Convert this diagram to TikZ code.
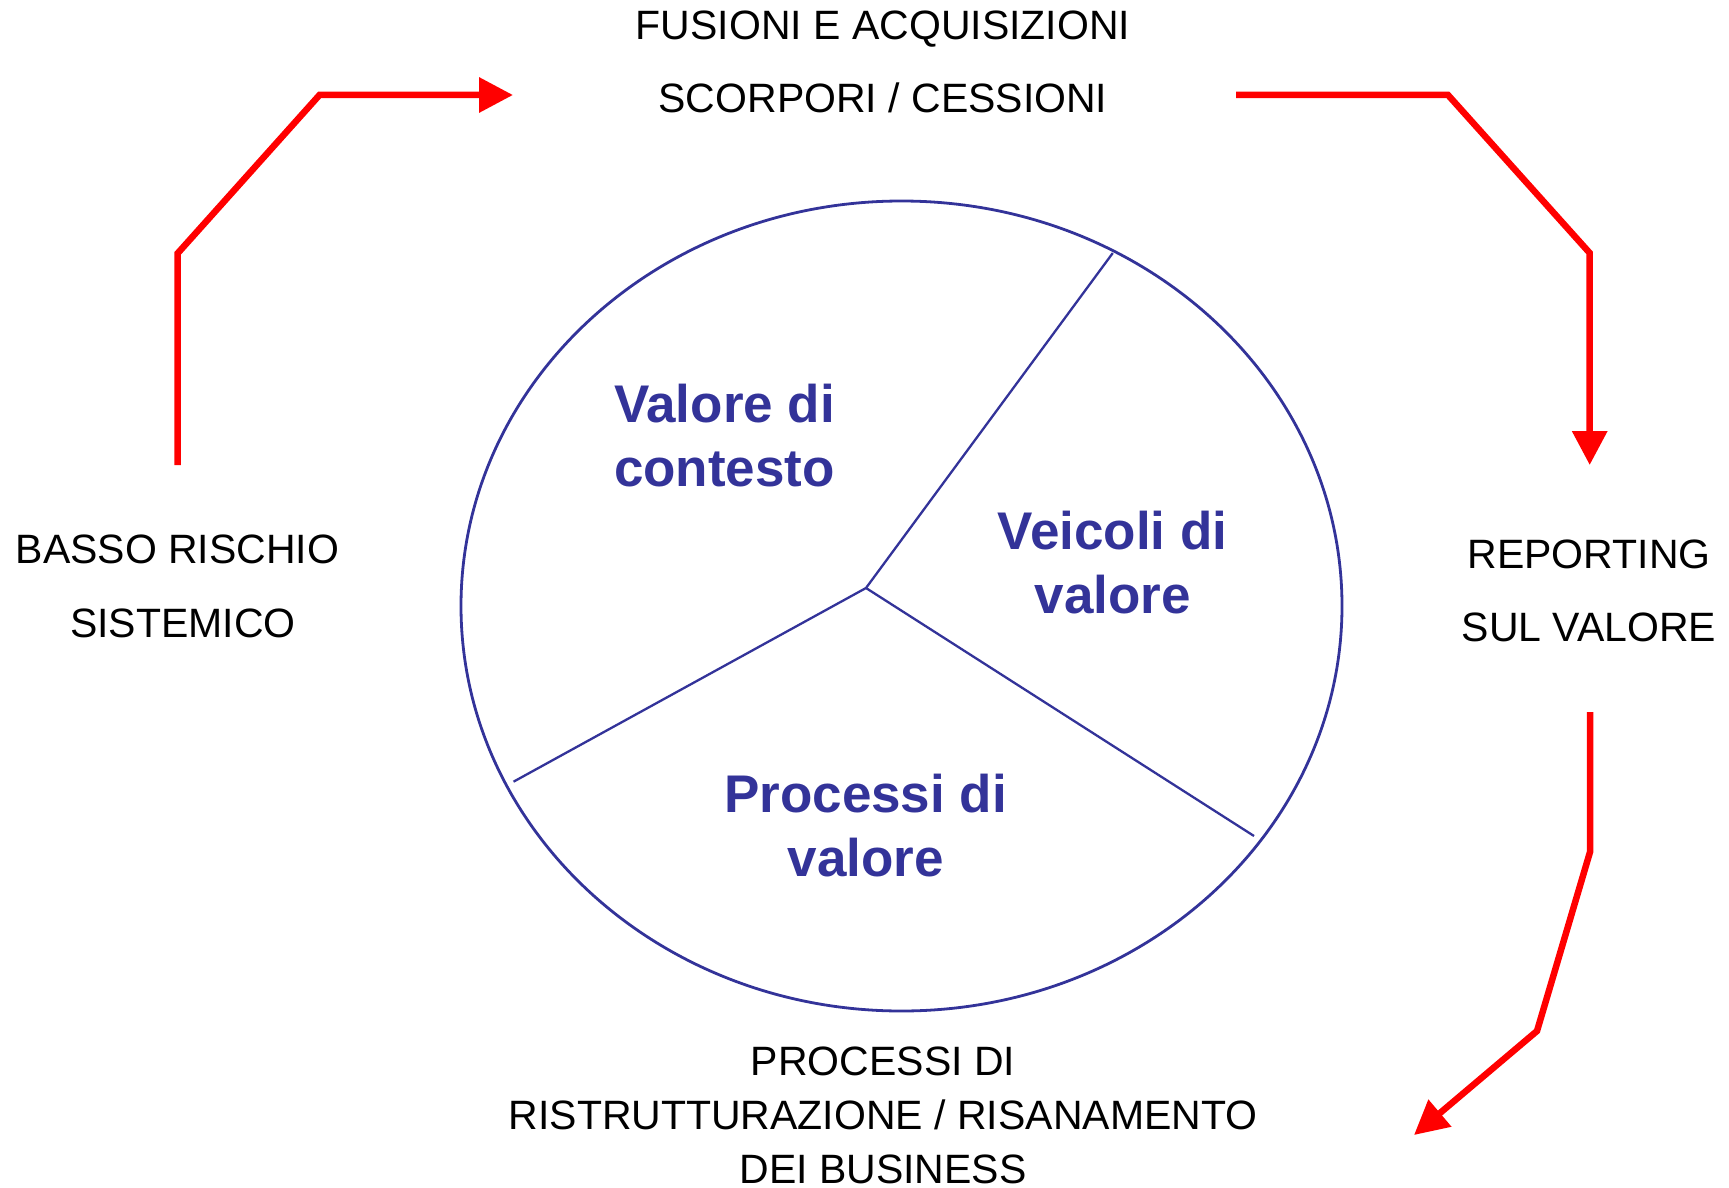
\documentclass[tikz,border=0pt]{standalone}
\usepackage{fontspec}
\setmainfont{Liberation Sans}
\usetikzlibrary{arrows.meta}
\definecolor{pblue}{HTML}{333399}
\begin{document}
\begin{tikzpicture}[x=1pt,y=-1pt,
  redarrow/.style={draw=red, line width=6.5pt, line join=miter, -{Triangle[length=34pt,width=34pt]}},
  lbl/.style={anchor=base, inner sep=0pt, text depth=0pt, font=\fontsize{41}{49}\selectfont},
  blbl/.style={anchor=base, inner sep=0pt, text=pblue, font=\fontsize{53}{62}\selectfont\bfseries},
  rim/.style={draw=pblue, line width=2.8pt},
  spoke/.style={draw=pblue, line width=2.3pt}]
\useasboundingbox (0,0) rectangle (1729,1188);
% pie
\draw[rim] (901.5,606) ellipse [x radius=440.5pt, y radius=405pt];
\coordinate (hub) at (866,588);
\coordinate (sTop) at (1112.8,253);
\coordinate (sLeft) at (513.5,781.7);
\coordinate (sRight) at (1254,836);
\draw[spoke] (sTop) -- (hub) -- (sLeft);
\draw[spoke] (hub) -- (sRight);
% sector labels
\node[blbl] (vc1) at (724.5,422) {Valore di};
\node[blbl] (vc2) at (724.5,486) {contesto};
\node[blbl] (vv1) at (1112.6,549) {Veicoli di};
\node[blbl] (vv2) at (1112.6,613) {valore};
\node[blbl] (pv1) at (865.6,812) {Processi di};
\node[blbl] (pv2) at (865.6,876) {valore};
% outer labels
\node[lbl] (fa1) at (883,39.2) {FUSIONI E ACQUISIZIONI};
\node[lbl] (fa2) at (883,112.7) {SCORPORI / CESSIONI};
\node[lbl] (br1) at (177.5,563.7) {BASSO RISCHIO};
\node[lbl] (br2) at (183,637.7) {SISTEMICO};
\node[lbl] (rv1) at (1589,568.3) {REPORTING};
\node[lbl] (rv2) at (1589,641.7) {SUL VALORE};
\node[lbl] (pr1) at (883,1075.7) {PROCESSI DI};
\node[lbl] (pr2) at (883,1129.7) {RISTRUTTURAZIONE / RISANAMENTO};
\node[lbl] (pr3) at (883,1183) {DEI BUSINESS};
% red arrows
\coordinate (a1s) at (177.5,465);
\coordinate (a1b) at (177.5,253.5);
\coordinate (a1c) at (319.5,95);
\coordinate (a1e) at (513,95);
\draw[redarrow] (a1s) -- (a1b) -- (a1c) -- (a1e);
\coordinate (a2s) at (1236,95);
\coordinate (a2b) at (1448,95);
\coordinate (a2c) at (1589.7,253);
\coordinate (a2e) at (1589.7,465);
\draw[redarrow] (a2s) -- (a2b) -- (a2c) -- (a2e);
\coordinate (a3s) at (1590,712);
\coordinate (a3b) at (1590,852);
\coordinate (a3c) at (1537,1031);
\coordinate (a3e) at (1414,1135);
\draw[redarrow] (a3s) -- (a3b) -- (a3c) -- (a3e);
\end{tikzpicture}
\end{document}
